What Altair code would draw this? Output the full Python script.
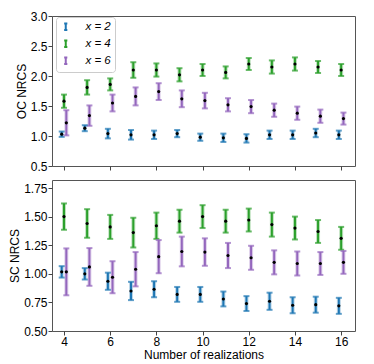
import altair as alt
import pandas as pd

n_real = list(range(4, 17))
series = ["x = 2", "x = 4", "x = 6"]
offsets = [-0.1, 0.0, 0.1]
colors = ["#1f77b4", "#2ca02c", "#9467bd"]

oc_x2 = [1.03, 1.13, 1.04, 1.02, 1.02, 1.04, 0.98, 0.97, 0.96, 1.02, 1.02, 1.05, 1.02]
oc_x2_err = [0.045, 0.05, 0.08, 0.08, 0.07, 0.06, 0.06, 0.07, 0.07, 0.07, 0.07, 0.07, 0.07]
oc_x4 = [1.58, 1.81, 1.86, 2.10, 2.10, 2.02, 2.10, 2.06, 2.20, 2.15, 2.20, 2.15, 2.10]
oc_x4_err = [0.11, 0.12, 0.10, 0.13, 0.11, 0.11, 0.10, 0.10, 0.10, 0.11, 0.11, 0.10, 0.10]
oc_x6 = [1.22, 1.34, 1.55, 1.66, 1.74, 1.62, 1.59, 1.52, 1.49, 1.43, 1.38, 1.33, 1.29]
oc_x6_err = [0.21, 0.17, 0.14, 0.15, 0.14, 0.14, 0.13, 0.11, 0.11, 0.11, 0.11, 0.11, 0.10]

sc_x2 = [1.017, 1.00, 0.935, 0.85, 0.865, 0.82, 0.82, 0.78, 0.74, 0.76, 0.725, 0.73, 0.72]
sc_x2_err = [0.05, 0.05, 0.075, 0.08, 0.07, 0.065, 0.065, 0.065, 0.065, 0.075, 0.07, 0.07, 0.07]
sc_x4 = [1.50, 1.44, 1.41, 1.36, 1.42, 1.46, 1.50, 1.46, 1.47, 1.43, 1.40, 1.37, 1.31]
sc_x4_err = [0.115, 0.125, 0.105, 0.13, 0.115, 0.10, 0.10, 0.10, 0.10, 0.105, 0.10, 0.10, 0.10]
sc_x6 = [1.017, 1.06, 0.97, 1.04, 1.15, 1.195, 1.19, 1.16, 1.14, 1.10, 1.09, 1.09, 1.10]
sc_x6_err = [0.205, 0.165, 0.14, 0.15, 0.145, 0.13, 0.12, 0.11, 0.105, 0.105, 0.105, 0.10, 0.10]


def make_df(vals, errs):
    rows = []
    for s, off, v, e in zip(series, offsets, vals, errs):
        for n, vv, ee in zip(n_real, v, e):
            rows.append({"n": n, "xpos": n + off, "series": s, "val": vv,
                         "lo": vv - ee, "hi": vv + ee})
    return pd.DataFrame(rows)


oc_df = make_df([oc_x2, oc_x4, oc_x6], [oc_x2_err, oc_x4_err, oc_x6_err])
sc_df = make_df([sc_x2, sc_x4, sc_x6], [sc_x2_err, sc_x4_err, sc_x6_err])

xscale = alt.Scale(domain=[3.48, 16.6], nice=False, zero=False)
color_scale = alt.Scale(domain=series, range=colors)
errsym = "M-0.5,-1H0.5M0,-1V1M-0.5,1H0.5"
FONT = "Liberation Sans"


def panel(df, ytitle, ydomain, yvalues, yfmt, show_x, show_legend, h):
    xaxis = alt.Axis(values=[4, 6, 8, 10, 12, 14, 16], labels=show_x, grid=False,
                     title="Number of realizations" if show_x else None,
                     tickSize=4, format="d")
    x = alt.X("xpos:Q", scale=xscale, axis=xaxis)
    yscale = alt.Scale(domain=ydomain, nice=False, zero=False)
    yaxis = alt.Axis(values=yvalues, grid=False, title=ytitle, tickSize=4,
                     format=yfmt)
    if show_legend:
        legend = alt.Legend(title=None, orient="none", legendX=4, legendY=1,
                            symbolType=errsym, symbolOpacity=1,
                            symbolSize=40, symbolStrokeWidth=2, labelFontSize=11.5,
                            labelFontStyle="italic",
                            fillColor="white", strokeColor="#cccccc", padding=4,
                            cornerRadius=3, rowPadding=2, labelOffset=14)
    else:
        legend = None
    color = alt.Color("series:N", scale=color_scale, legend=legend)
    base = alt.Chart(df)
    y_lo = alt.Y("lo:Q", scale=yscale, axis=yaxis)
    halo = base.mark_rule(strokeWidth=4, opacity=0.3).encode(
        x=x, y=y_lo, y2="hi:Q", color=color)
    rule = base.mark_rule(strokeWidth=2).encode(
        x=x, y=y_lo, y2="hi:Q", color=color)
    cap_lo = base.mark_tick(orient="horizontal", size=6, thickness=2).encode(
        x=x, y=y_lo, color=color)
    cap_hi = base.mark_tick(orient="horizontal", size=6, thickness=2).encode(
        x=x, y=alt.Y("hi:Q", scale=yscale, axis=yaxis), color=color)
    dots = base.mark_point(filled=True, size=10, color="black", opacity=1).encode(
        x=x, y=alt.Y("val:Q", scale=yscale, axis=yaxis))
    return alt.layer(halo, rule, cap_lo, cap_hi, dots).properties(width=303, height=h)


top = panel(oc_df, "OC NRCS", [0.5, 3.0], [0.5, 1.0, 1.5, 2.0, 2.5, 3.0], ".1f",
            False, True, 150)
bottom = panel(sc_df, "SC NRCS", [0.5, 1.82], [0.5, 0.75, 1.0, 1.25, 1.5, 1.75], ".2f",
               True, False, 151)

chart = alt.vconcat(top, bottom, spacing=6).resolve_legend(color="independent").properties(
    padding={"left": 0, "top": 1, "right": 0, "bottom": 0}
).configure_view(stroke="#555555", strokeWidth=1).configure_axis(
    labelFont=FONT, titleFont=FONT, labelFontSize=12,
    titleFontSize=12, titleFontWeight="normal", labelColor="black",
    titleColor="black", domain=False, tickColor="#444444", labelPadding=1,
    titlePadding=2
).configure_legend(labelFont=FONT)

chart.save("out.html", embed_options={"renderer": "svg", "actions": False})
